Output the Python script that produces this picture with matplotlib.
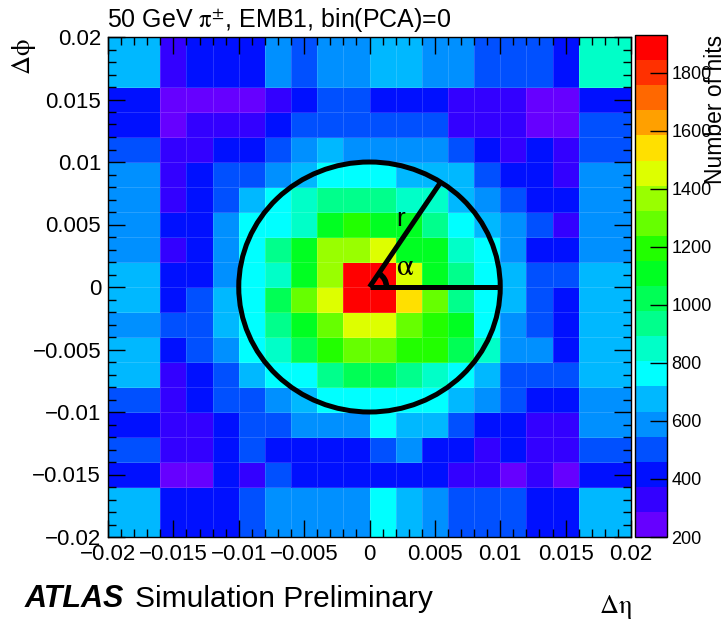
import numpy as np
import matplotlib
matplotlib.use('Agg')
import matplotlib.pyplot as plt
from matplotlib.colors import ListedColormap, BoundaryNorm
from matplotlib.patches import Circle, Arc
from matplotlib.ticker import MultipleLocator, FuncFormatter

plt.rcParams['font.family'] = ['Liberation Sans', 'DejaVu Sans']
plt.rcParams['mathtext.fontset'] = 'stix'

# bin edges (variable: outer bins are twice as wide)
eta_edges = [-0.02, -0.016, -0.014, -0.012, -0.010, -0.008, -0.006, -0.004, -0.002, 0.0,
             0.002, 0.004, 0.006, 0.008, 0.010, 0.012, 0.014, 0.016, 0.02]
phi_edges = [-0.02, -0.016, -0.014, -0.012, -0.010, -0.008, -0.006, -0.004, -0.002, 0.0,
             0.002, 0.004, 0.006, 0.008, 0.010, 0.012, 0.014, 0.016, 0.02]

# number of hits per cell, rows from top (dphi = 0.02) to bottom (dphi = -0.02)
hits = [
    [675, 330, 415, 415, 415, 590, 505, 590, 590, 675, 675, 590, 590, 505, 505, 505, 415, 850],
    [415, 245, 245, 245, 245, 330, 415, 505, 505, 415, 415, 415, 330, 330, 330, 245, 245, 415],
    [415, 245, 330, 330, 330, 415, 505, 505, 505, 505, 505, 505, 330, 330, 330, 245, 245, 505],
    [505, 330, 330, 415, 415, 505, 590, 675, 590, 590, 590, 590, 505, 415, 330, 415, 330, 505],
    [590, 330, 415, 505, 505, 590, 675, 760, 760, 760, 675, 675, 675, 505, 415, 415, 330, 590],
    [590, 330, 415, 505, 675, 760, 850, 935, 935, 935, 850, 850, 675, 590, 505, 415, 415, 590],
    [590, 415, 415, 590, 760, 760, 850, 1110, 1195, 1110, 1110, 935, 760, 675, 590, 505, 330, 590],
    [590, 330, 415, 590, 760, 935, 1110, 1370, 1370, 1455, 1110, 1110, 850, 760, 590, 415, 415, 590],
    [675, 415, 415, 590, 760, 850, 1110, 1370, 1890, 1890, 1455, 1110, 935, 760, 675, 505, 505, 675],
    [675, 415, 505, 675, 760, 1020, 1280, 1455, 1890, 1890, 1540, 1280, 935, 760, 675, 505, 415, 675],
    [590, 505, 505, 675, 760, 935, 1110, 1280, 1455, 1455, 1280, 1195, 1110, 760, 590, 505, 415, 675],
    [675, 415, 505, 590, 760, 850, 1020, 1195, 1280, 1280, 1195, 1195, 1020, 850, 590, 590, 415, 675],
    [675, 330, 415, 505, 675, 760, 760, 935, 1020, 1020, 935, 850, 760, 675, 505, 505, 505, 675],
    [505, 330, 415, 505, 505, 590, 675, 760, 760, 760, 760, 760, 675, 590, 505, 415, 415, 590],
    [415, 330, 330, 415, 505, 505, 590, 590, 590, 760, 675, 675, 505, 415, 415, 330, 330, 590],
    [505, 330, 330, 415, 505, 415, 415, 415, 415, 505, 590, 415, 415, 330, 415, 330, 330, 505],
    [415, 245, 245, 415, 330, 505, 415, 415, 415, 415, 415, 415, 330, 330, 245, 330, 245, 415],
    [675, 415, 415, 415, 505, 590, 590, 590, 590, 760, 675, 590, 505, 505, 505, 415, 415, 675],
]

z_min, z_max, n_levels = 200, 1930, 20
cbar_ticks = [200, 400, 600, 800, 1000, 1200, 1400, 1600, 1800]

# ROOT-like rainbow palette, violet -> red
palette = ['#6600ff', '#3300ff', '#0010ff', '#0050ff', '#0090ff', '#00b8ff', '#00ffff',
           '#00ffc8', '#00ff8c', '#00ff55', '#00ff22', '#22ff00', '#66ff00', '#99ff00',
           '#ddff00', '#ffe000', '#ffa000', '#ff6800', '#ff3000', '#ff0000']

radius = 0.01
alpha_deg = 57

fig = plt.figure(figsize=(7.28, 6.2), dpi=100)
ax = fig.add_axes([108/728, 1-537/620, 523/728, 500/620])

cmap = ListedColormap(palette)
norm = BoundaryNorm(np.linspace(z_min, z_max, n_levels + 1), cmap.N)
mesh = ax.pcolormesh(eta_edges, phi_edges, np.array(hits)[::-1], cmap=cmap, norm=norm,
                     edgecolors=(1, 1, 1, 0.15), linewidth=0.6)

ax.set_xlim(-0.02, 0.02)
ax.set_ylim(-0.02, 0.02)

def fmt(v, pos):
    if abs(v) < 1e-12:
        return '0'
    return ('%g' % v).replace('-', '\u2212')

for axis in (ax.xaxis, ax.yaxis):
    axis.set_major_locator(MultipleLocator(0.005))
    axis.set_minor_locator(MultipleLocator(0.001))
    axis.set_major_formatter(FuncFormatter(fmt))
ax.tick_params(which='both', direction='in', top=True, right=True, width=1)
ax.tick_params(which='major', length=12, labelsize=16, pad=5)
ax.tick_params(which='minor', length=6)
for s in ax.spines.values():
    s.set_linewidth(1)

# circle, radius and angle
ax.add_patch(Circle((0, 0), radius, fill=False, lw=3.6, color='black'))
ax.plot([0, radius], [0, 0], color='black', lw=3.6, solid_capstyle='butt')
a = np.radians(alpha_deg)
ax.plot([0, radius*np.cos(a)], [0, radius*np.sin(a)], color='black', lw=3.6,
        solid_capstyle='butt')
ax.add_patch(Arc((0, 0), 0.0026, 0.0026, theta1=0, theta2=alpha_deg, lw=4, color='black'))
ax.text(0.0024, 0.0054, 'r', fontsize=19, ha='center', va='center')
ax.text(0.0027, 0.0016, r'$\mathrm{\alpha}$', fontsize=22, ha='center', va='center')

# colour bar
cax = fig.add_axes([635/728, 1-537/620, 32/728, 502/620])
cb = fig.colorbar(mesh, cax=cax, ticks=cbar_ticks)
cb.ax.tick_params(direction='in', length=12, width=1, labelsize=13, pad=3)
cb.ax.minorticks_off()
cb.outline.set_linewidth(1)

fig.text(716/728, 1-35/620, 'Number of hits', rotation=90, ha='center', va='top', fontsize=16.5)
fig.text(24/728, 1-38/620, r'$\mathrm{\Delta\phi}$', rotation=90, ha='center', va='top',
         fontsize=19)
fig.text(632/728, 1-613/620, r'$\mathrm{\Delta\eta}$', ha='right', va='baseline', fontsize=19)
fig.text(107/728, 1-27/620, r'50 GeV $\mathrm{\pi}^{\pm}$, EMB1, bin(PCA)=0', ha='left',
         va='baseline', fontsize=18)
fig.text(25/728, 1-607/620, 'ATLAS', weight='bold', style='italic', fontsize=22,
         va='baseline')
fig.text(135/728, 1-607/620, 'Simulation Preliminary', fontsize=21.5, va='baseline')

fig.savefig('out.png', dpi=100)
